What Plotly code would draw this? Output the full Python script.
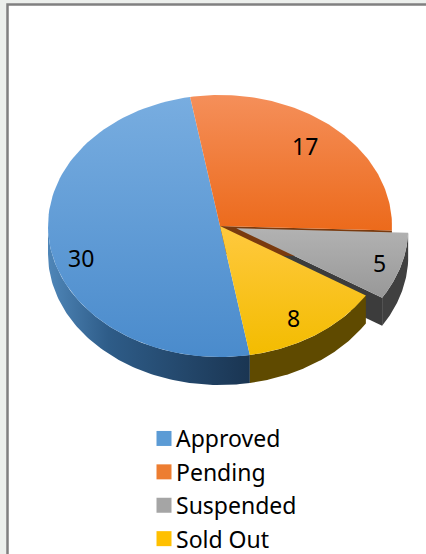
import numpy as np
import plotly.graph_objects as go

categories = ["Approved", "Pending", "Suspended", "Sold Out"]
values = [30, 17, 5, 8]
swatch_colors = ["#5B9BD5", "#ED7D31", "#A5A5A5", "#FFC000"]
label_font = "Noto Sans"

W, H = 426, 554
CX, CY, RX, RY, DEPTH = 220, 226, 172, 131, 28
START = 170.0
EXPLODE = {"Suspended": 17.0}

top_grad = {
    "Approved": ["#78ADE0", "#4A8BCC"],
    "Pending": ["#F58F5A", "#EC6A1B"],
    "Suspended": ["#B2B2B2", "#989898"],
    "Sold Out": ["#FFC93F", "#F3BC00"],
}
blue_side = [[0, "#4F86B8"], [0.3, "#2E5C88"], [1, "#1A3552"]]
label_pos = {"Approved": (81, 258), "Pending": (305, 146), "Suspended": (379, 263), "Sold Out": (293, 318)}

total = sum(values)
spans = {}
a = START
for c, v in zip(categories, values):
    spans[c] = (a, a + v / total * 360)
    a += v / total * 360


def pt(ang, off):
    t = np.radians(ang)
    return CX + off[0] + RX * np.sin(t), CY + off[1] - RY * np.cos(t)


def arc(a0, a1, off, dy=0):
    t = np.radians(np.linspace(a0, a1, 90))
    return CX + off[0] + RX * np.sin(t), CY + off[1] + dy - RY * np.cos(t)


def offset(c):
    e = EXPLODE.get(c, 0)
    m = np.radians(sum(spans[c]) / 2)
    return e * np.sin(m), -e * np.cos(m) * RY / RX * 0.6


def poly(xs, ys, fill=None, grad=None):
    kw = dict(x=list(xs) + [xs[0]], y=list(ys) + [ys[0]], mode="lines", line=dict(width=0),
              fill="toself", hoverinfo="skip", showlegend=False)
    if grad:
        kw["fillgradient"] = grad
    else:
        kw["fillcolor"] = fill
    return go.Scatter(**kw)


def wall(a0, a1, off, **kw):
    x, y = arc(a0, a1, off)
    xb, yb = arc(a0, a1, off, DEPTH)
    return poly(np.r_[x, xb[::-1]], np.r_[y, yb[::-1]], **kw)


def radial_wall(ang, off, **kw):
    cx, cy = CX + off[0], CY + off[1]
    ex, ey = pt(ang, off)
    return poly([cx, ex, ex, cx], [cy, ey, ey + DEPTH, cy + DEPTH], **kw)


def top(c):
    off = offset(c)
    x, y = arc(*spans[c], off)
    colors = top_grad[c]
    return poly(np.r_[CX + off[0], x], np.r_[CY + off[1], y],
                grad=dict(type="vertical", colorscale=[[0, colors[1]], [1, colors[0]]]))


fig = go.Figure()
b0, b1 = spans["Approved"]
fig.add_trace(wall(b0, 270, (0, 0), grad=dict(type="horizontal", colorscale=blue_side)))
offS = offset("Suspended")
s0, s1 = spans["Suspended"]
fig.add_trace(radial_wall(s1, offS, fill="#3C3C3C"))
fig.add_trace(wall(s0, s1, offS, fill="#404040"))
y0, y1 = spans["Sold Out"]
fig.add_trace(wall(y0, y1, (0, 0), fill="#5F4A00"))
fig.add_trace(radial_wall(spans["Pending"][1], (0, 0), fill="#7A3A0E"))
for c in ["Approved", "Pending", "Sold Out", "Suspended"]:
    fig.add_trace(top(c))
for c, col in zip(categories, swatch_colors):
    fig.add_trace(go.Scatter(x=[None], y=[None], mode="markers", name=c, legendgroup=c,
                             marker=dict(symbol="square", size=15, color=col), hoverinfo="skip"))
for c, v in zip(categories, values):
    x, y = label_pos[c]
    fig.add_annotation(x=x, y=y, text=str(v), showarrow=False, font=dict(family=label_font, size=23, color="#000000"))

fig.update_layout(
    width=W, height=H, margin=dict(l=0, r=0, t=0, b=0, autoexpand=False),
    paper_bgcolor="#ECEFEC", plot_bgcolor="rgba(0,0,0,0)",
    xaxis=dict(range=[0, W], visible=False, fixedrange=True),
    yaxis=dict(range=[H, 0], visible=False, fixedrange=True),
    shapes=[dict(type="rect", xref="x", yref="y", x0=7.5, y0=4.5, x1=W + 10, y1=H + 10,
                 fillcolor="#FFFFFF", line=dict(color="#808080", width=2.5), layer="below")],
    legend=dict(x=136 / W, xanchor="left", y=1 - 417 / H, yanchor="top",
                font=dict(family=label_font, size=23, color="#000000"),
                bgcolor="rgba(0,0,0,0)", tracegroupgap=0.5, itemclick=False, itemdoubleclick=False),
    showlegend=True,
)
fig.write_html("out.html", config={"displayModeBar": False},
               post_script="document.body.style.margin='0';document.body.style.overflow='hidden';"
                           "document.querySelectorAll('.legend .legendsymbols').forEach(function(n){n.setAttribute('transform','translate(8,0)');});")
